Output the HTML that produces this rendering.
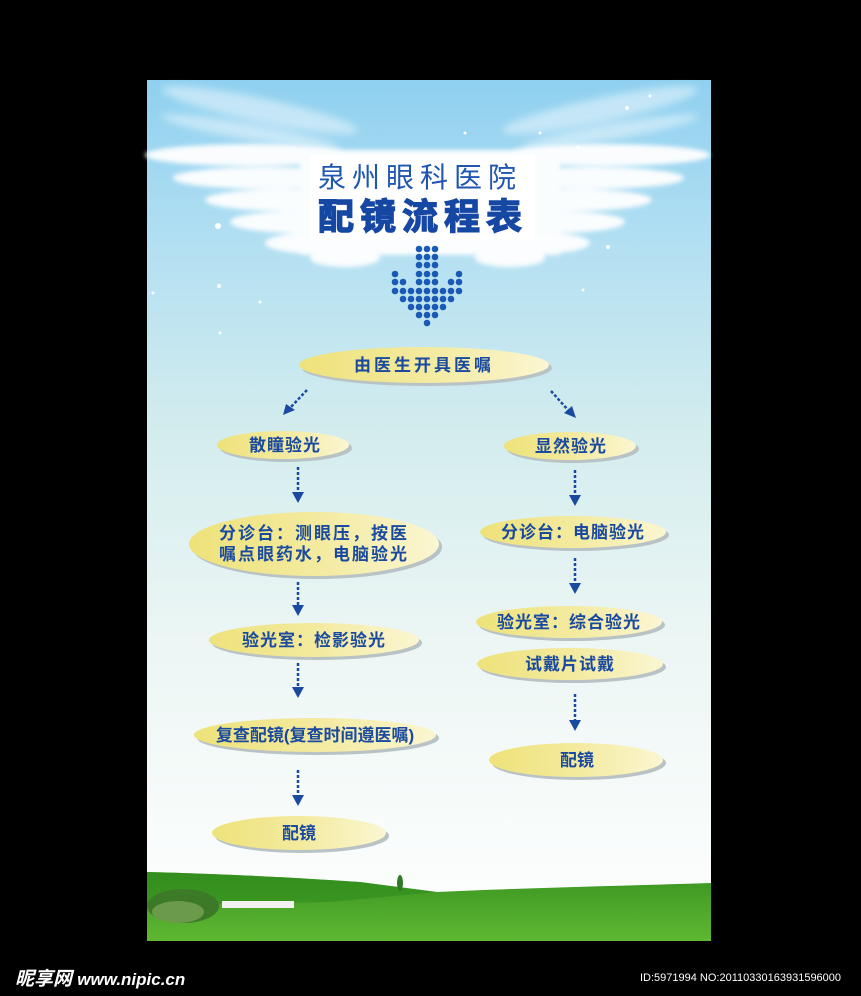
<!DOCTYPE html>
<html><head><meta charset="utf-8"><style>
html,body{margin:0;padding:0;background:#000;width:861px;height:996px;overflow:hidden}
svg{display:block}
</style></head><body>
<svg width="861" height="996" viewBox="0 0 861 996" xmlns="http://www.w3.org/2000/svg" font-family="'Liberation Sans','Noto Sans CJK SC',sans-serif">
<defs>
<linearGradient id="sky" x1="0" y1="0" x2="0" y2="1">
<stop offset="0" stop-color="#8fd0f0"/>
<stop offset="0.2" stop-color="#b4e0f2"/>
<stop offset="0.4" stop-color="#d2ecee"/>
<stop offset="0.65" stop-color="#ecf6f4"/>
<stop offset="1" stop-color="#ffffff"/>
</linearGradient>
<linearGradient id="yel" x1="0" y1="0" x2="1" y2="0">
<stop offset="0" stop-color="#eee27a"/>
<stop offset="0.5" stop-color="#f3ea9e"/>
<stop offset="1" stop-color="#fbf6d2"/>
</linearGradient>
<linearGradient id="grass" x1="0" y1="0" x2="0" y2="1">
<stop offset="0" stop-color="#3a9420"/>
<stop offset="1" stop-color="#5fb832"/>
</linearGradient>
<filter id="bl" x="-20%" y="-50%" width="140%" height="200%"><feGaussianBlur stdDeviation="4"/></filter>
<filter id="bl2" x="-20%" y="-50%" width="140%" height="200%"><feGaussianBlur stdDeviation="2.5"/></filter>
</defs>
<rect x="147" y="80" width="564" height="861" fill="url(#sky)"/>
<g fill="#fff" opacity="0.45" filter="url(#bl)">
<ellipse cx="260" cy="110" rx="100" ry="12" transform="rotate(12 260 110)"/>
<ellipse cx="250" cy="132" rx="90" ry="8" transform="rotate(10 250 132)"/>
<ellipse cx="600" cy="110" rx="100" ry="12" transform="rotate(-12 600 110)"/>
<ellipse cx="610" cy="132" rx="90" ry="8" transform="rotate(-10 610 132)"/>
</g>
<g fill="#fff" filter="url(#bl2)" opacity="0.95">
<ellipse cx="250" cy="155" rx="105" ry="11"/>
<ellipse cx="265" cy="178" rx="92" ry="11"/>
<ellipse cx="285" cy="200" rx="80" ry="11"/>
<ellipse cx="300" cy="222" rx="70" ry="11"/>
<ellipse cx="320" cy="243" rx="55" ry="11"/>
<ellipse cx="345" cy="258" rx="35" ry="9"/>
<ellipse cx="605" cy="155" rx="105" ry="11"/>
<ellipse cx="592" cy="178" rx="92" ry="11"/>
<ellipse cx="572" cy="200" rx="80" ry="11"/>
<ellipse cx="555" cy="222" rx="70" ry="11"/>
<ellipse cx="535" cy="243" rx="55" ry="11"/>
<ellipse cx="510" cy="258" rx="35" ry="9"/>
<rect x="300" y="150" width="260" height="105"/>
</g>
<rect x="310" y="155" width="225" height="85" fill="#fff" opacity="0.9"/>
<g fill="#fff">
<circle cx="218" cy="226" r="3"/><circle cx="219" cy="286" r="2"/><circle cx="260" cy="302" r="1.5"/><circle cx="153" cy="293" r="1.5"/><circle cx="220" cy="333" r="1.5"/><circle cx="465" cy="133" r="1.5"/><circle cx="540" cy="133" r="1.5"/><circle cx="578" cy="147" r="1.5"/><circle cx="627" cy="108" r="2"/><circle cx="608" cy="247" r="2"/><circle cx="583" cy="290" r="1.5"/><circle cx="650" cy="96" r="1.5"/>
</g>
<text x="318" y="187" font-size="28" fill="#1f56b0" letter-spacing="6">泉州眼科医院</text>
<text x="318" y="229" font-size="36" font-weight="bold" fill="#1547a3" stroke="#1547a3" stroke-width="1.4" letter-spacing="6">配镜流程表</text>
<g fill="#1a5ab5">
<circle cx="419" cy="249" r="3.3"/><circle cx="427" cy="249" r="3.3"/><circle cx="435" cy="249" r="3.3"/>
<circle cx="419" cy="257" r="3.3"/><circle cx="427" cy="257" r="3.3"/><circle cx="435" cy="257" r="3.3"/>
<circle cx="419" cy="265" r="3.3"/><circle cx="427" cy="265" r="3.3"/><circle cx="435" cy="265" r="3.3"/>
<circle cx="395" cy="274" r="3.3"/><circle cx="419" cy="274" r="3.3"/><circle cx="427" cy="274" r="3.3"/><circle cx="435" cy="274" r="3.3"/><circle cx="459" cy="274" r="3.3"/>
<circle cx="395" cy="282" r="3.3"/><circle cx="403" cy="282" r="3.3"/><circle cx="419" cy="282" r="3.3"/><circle cx="427" cy="282" r="3.3"/><circle cx="435" cy="282" r="3.3"/><circle cx="451" cy="282" r="3.3"/><circle cx="459" cy="282" r="3.3"/>
<circle cx="395" cy="291" r="3.3"/><circle cx="403" cy="291" r="3.3"/><circle cx="411" cy="291" r="3.3"/><circle cx="419" cy="291" r="3.3"/><circle cx="427" cy="291" r="3.3"/><circle cx="435" cy="291" r="3.3"/><circle cx="443" cy="291" r="3.3"/><circle cx="451" cy="291" r="3.3"/><circle cx="459" cy="291" r="3.3"/>
<circle cx="403" cy="299" r="3.3"/><circle cx="411" cy="299" r="3.3"/><circle cx="419" cy="299" r="3.3"/><circle cx="427" cy="299" r="3.3"/><circle cx="435" cy="299" r="3.3"/><circle cx="443" cy="299" r="3.3"/><circle cx="451" cy="299" r="3.3"/>
<circle cx="411" cy="307" r="3.3"/><circle cx="419" cy="307" r="3.3"/><circle cx="427" cy="307" r="3.3"/><circle cx="435" cy="307" r="3.3"/><circle cx="443" cy="307" r="3.3"/>
<circle cx="419" cy="315" r="3.3"/><circle cx="427" cy="315" r="3.3"/><circle cx="435" cy="315" r="3.3"/>
<circle cx="427" cy="323" r="3.3"/>
</g>
<g>
<ellipse cx="427" cy="368" rx="125" ry="18" fill="#b9c2c4"/>
<ellipse cx="424" cy="365" rx="125" ry="18" fill="url(#yel)"/>
<ellipse cx="286" cy="448" rx="66" ry="14" fill="#b9c2c4"/>
<ellipse cx="283" cy="445" rx="66" ry="14" fill="url(#yel)"/>
<ellipse cx="573" cy="449" rx="66" ry="14" fill="#b9c2c4"/>
<ellipse cx="570" cy="446" rx="66" ry="14" fill="url(#yel)"/>
<ellipse cx="317" cy="547" rx="125" ry="32" fill="#b9c2c4"/>
<ellipse cx="314" cy="544" rx="125" ry="32" fill="url(#yel)"/>
<ellipse cx="576" cy="535" rx="93" ry="16" fill="#b9c2c4"/>
<ellipse cx="573" cy="532" rx="93" ry="16" fill="url(#yel)"/>
<ellipse cx="317" cy="643" rx="105" ry="17" fill="#b9c2c4"/>
<ellipse cx="314" cy="640" rx="105" ry="17" fill="url(#yel)"/>
<ellipse cx="572" cy="625" rx="93" ry="16" fill="#b9c2c4"/>
<ellipse cx="569" cy="622" rx="93" ry="16" fill="url(#yel)"/>
<ellipse cx="573" cy="667" rx="93" ry="16" fill="#b9c2c4"/>
<ellipse cx="570" cy="664" rx="93" ry="16" fill="url(#yel)"/>
<ellipse cx="318" cy="738" rx="121" ry="17" fill="#b9c2c4"/>
<ellipse cx="315" cy="735" rx="121" ry="17" fill="url(#yel)"/>
<ellipse cx="579" cy="763" rx="87" ry="17" fill="#b9c2c4"/>
<ellipse cx="576" cy="760" rx="87" ry="17" fill="url(#yel)"/>
<ellipse cx="302" cy="836" rx="87" ry="17" fill="#b9c2c4"/>
<ellipse cx="299" cy="833" rx="87" ry="17" fill="url(#yel)"/>
</g>
<g font-size="17" font-weight="bold" fill="#1a4aa0" text-anchor="middle">
<text x="424" y="371" letter-spacing="3">由医生开具医嘱</text>
<text x="285" y="451" letter-spacing="1">散瞳验光</text>
<text x="571" y="452" letter-spacing="1">显然验光</text>
<text x="314" y="539" letter-spacing="2">分诊台：测眼压，按医</text>
<text x="314" y="560" letter-spacing="2">嘱点眼药水，电脑验光</text>
<text x="573" y="538" letter-spacing="1">分诊台：电脑验光</text>
<text x="314" y="646" letter-spacing="1">验光室：检影验光</text>
<text x="569" y="628" letter-spacing="1">验光室：综合验光</text>
<text x="570" y="670" letter-spacing="1">试戴片试戴</text>
<text x="315" y="741">复查配镜(复查时间遵医嘱)</text>
<text x="577" y="766">配镜</text>
<text x="299" y="839">配镜</text>
</g>
<g stroke="#1a4aa0" stroke-width="2.5" stroke-dasharray="3,2" fill="none">
<line x1="307" y1="390" x2="290" y2="408"/>
<line x1="551" y1="391" x2="568" y2="410"/>
<line x1="298" y1="467" x2="298" y2="494"/>
<line x1="298" y1="582" x2="298" y2="607"/>
<line x1="298" y1="663" x2="298" y2="689"/>
<line x1="298" y1="770" x2="298" y2="797"/>
<line x1="575" y1="470" x2="575" y2="497"/>
<line x1="575" y1="558" x2="575" y2="585"/>
<line x1="575" y1="694" x2="575" y2="722"/>
</g>
<g fill="#1a4aa0">
<polygon points="283,415 286,404 295,410"/>
<polygon points="576,418 564,413 572,406"/>
<polygon points="292,492 304,492 298,503"/>
<polygon points="292,605 304,605 298,616"/>
<polygon points="292,687 304,687 298,698"/>
<polygon points="292,795 304,795 298,806"/>
<polygon points="569,495 581,495 575,506"/>
<polygon points="569,583 581,583 575,594"/>
<polygon points="569,720 581,720 575,731"/>
</g>
<path d="M147,872 C230,874 300,878 360,882 L437,892 C520,888 620,886 711,883 L711,941 L147,941 Z" fill="url(#grass)"/>
<path d="M147,872 C230,874 300,878 360,882 L437,892 L330,902 L147,905 Z" fill="#2f8a1c" opacity="0.6"/>
<ellipse cx="183" cy="906" rx="36" ry="17" fill="#3d7a28"/>
<ellipse cx="178" cy="912" rx="26" ry="11" fill="#6a9a4a"/>
<rect x="222" y="901" width="72" height="7" fill="#f2f2f2"/>
<ellipse cx="400" cy="883" rx="3" ry="8" fill="#2f7a25"/>
<text x="15" y="985" font-size="19" font-weight="bold" font-style="italic" fill="#fff">昵享网 <tspan font-size="17">www.nipic.cn</tspan></text>
<text x="640" y="981" font-size="11" fill="#fff">ID:5971994 NO:20110330163931596000</text>
</svg>
</body></html>
